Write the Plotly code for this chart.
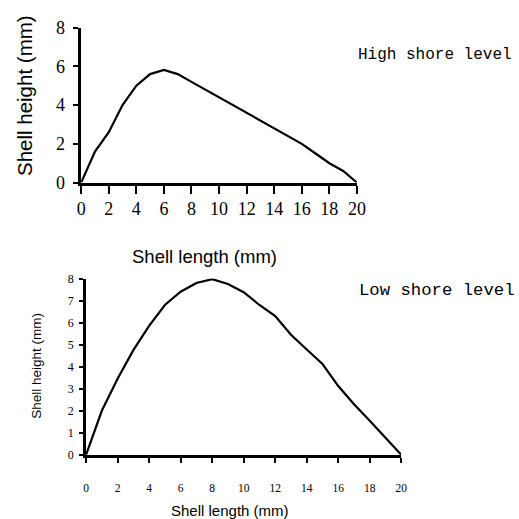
import plotly.graph_objects as go

length_mm = list(range(0, 21))
high_shore_height = [0, 1.6, 2.6, 4.0, 5.0, 5.6, 5.82, 5.6, 5.2, 4.8, 4.4, 4.0, 3.6, 3.2, 2.8, 2.4, 2.0, 1.5, 1.0, 0.6, 0]
low_shore_height = [0, 2.0, 3.45, 4.75, 5.85, 6.8, 7.4, 7.8, 7.97, 7.75, 7.38, 6.8, 6.3, 5.45, 4.78, 4.12, 3.12, 2.3, 1.55, 0.78, 0]
top_y_ticks = [0, 2, 4, 6, 8]
bottom_y_ticks = [0, 1, 2, 3, 4, 5, 6, 7, 8]
x_ticks = [0, 2, 4, 6, 8, 10, 12, 14, 16, 18, 20]

NBSP = "\u00a0"
top_y_text = [f"{v}{NBSP}" for v in top_y_ticks]
bottom_y_text = [f"{v}{NBSP}" for v in bottom_y_ticks]
bottom_x_text = [f"<br>{v}" for v in x_ticks]

W = H = 519
def px_x(p): return p / W
def px_y(p): return 1 - p / H

fig = go.Figure()
fig.add_trace(go.Scatter(x=length_mm, y=high_shore_height, mode="lines",
                         line=dict(color="black", width=2.2), xaxis="x", yaxis="y",
                         showlegend=False))
fig.add_trace(go.Scatter(x=length_mm, y=low_shore_height, mode="lines",
                         line=dict(color="black", width=2.2), xaxis="x2", yaxis="y2",
                         showlegend=False))

serif = "Liberation Serif"
axis_common = dict(showgrid=False, zeroline=False, showline=True, linecolor="#000000",
                   linewidth=3, ticks="outside", tickcolor="#000000", tickwidth=2)

fig.update_layout(
    width=W, height=H, margin=dict(l=0, r=0, t=0, b=0),
    paper_bgcolor="white", plot_bgcolor="white",
    xaxis=dict(domain=[px_x(78.3), px_x(361.7)], range=[0, 20], tickvals=x_ticks,
               ticklen=8, tickfont=dict(family=serif, size=18, color="black"),
               anchor="y", **axis_common),
    yaxis=dict(domain=[px_y(179.5), px_y(18.3)], range=[0, 8], tickvals=top_y_ticks,
               ticktext=top_y_text,
               ticklen=5, tickfont=dict(family=serif, size=18, color="black"),
               anchor="x", **axis_common),
    xaxis2=dict(domain=[px_x(83.3), px_x(407.3)], range=[0, 20], tickvals=x_ticks,
                ticktext=bottom_x_text,
                ticklen=5, tickfont=dict(family=serif, size=11.5, color="black"),
                anchor="y2", **axis_common),
    yaxis2=dict(domain=[px_y(462.7), px_y(279.3)], range=[0, 8], tickvals=bottom_y_ticks,
                ticktext=bottom_y_text,
                ticklen=4, tickfont=dict(family=serif, size=12, color="black"),
                anchor="x2", **axis_common),
)

sans = "Liberation Sans"
mono = "Liberation Mono"
annotations = [
    dict(text="Shell length (mm)", x=px_x(205), y=px_y(256.7), font=dict(family=sans, size=18.5, color="black")),
    dict(text="Shell height (mm)", x=px_x(20), y=px_y(89), textangle=-90, font=dict(family=sans, size=20.5, color="black")),
    dict(text="Shell length (mm)", x=px_x(231), y=px_y(521), font=dict(family=sans, size=15, color="black"), borderpad=0),
    dict(text="Shell height (mm)", x=px_x(33), y=px_y(370), textangle=-90, font=dict(family=sans, size=13.5, color="black")),
    dict(text="High shore level", x=px_x(361), y=px_y(47.3), xanchor="left", font=dict(family=mono, size=16, color="black")),
    dict(text="Low shore level", x=px_x(362), y=px_y(291.7), xanchor="left", font=dict(family=mono, size=17.3, color="black")),
]
for a in annotations:
    a.setdefault("xanchor", "center")
    a.update(xref="paper", yref="paper", yanchor="middle", showarrow=False)
    fig.add_annotation(**a)

fig.write_html("out.html")
